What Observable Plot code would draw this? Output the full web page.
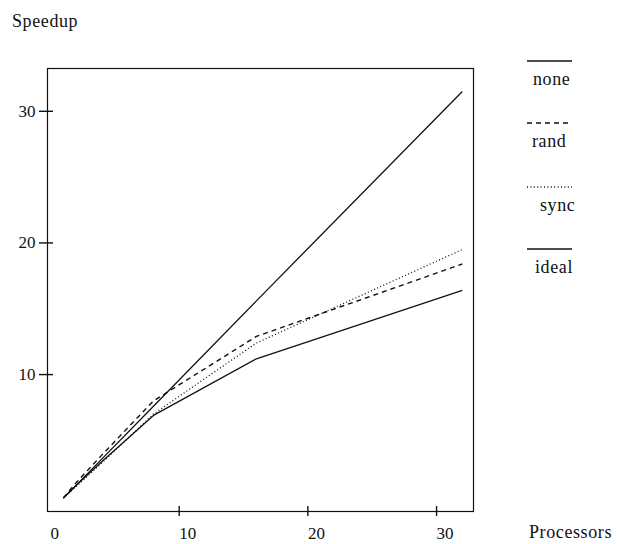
<!DOCTYPE html>
<html>
<head>
<meta charset="utf-8">
<script src="https://cdn.jsdelivr.net/npm/d3@7"></script>
<script src="https://cdn.jsdelivr.net/npm/@observablehq/plot@0.6"></script>
<style>
  html, body { margin: 0; padding: 0; background: #fff; }
  #chart { position: relative; width: 617px; height: 544px; }
  #chart svg text { font-family: 'Liberation Serif', 'Times New Roman', 'DejaVu Serif', serif; }
</style>
</head>
<body>
<div id="chart"></div>
<script>
// Data
const processors = [1, 2, 4, 8, 16, 32];
const noneSpeedup  = [0.63, 1.6, 3.4, 6.9, 11.2, 16.4];
const randSpeedup  = [0.63, 1.8, 3.9, 8.0, 12.9, 18.4];
const syncSpeedup  = [0.63, 1.5, 3.3, 7.0, 12.4, 19.5];
const idealSpeedup = [0.63, 1.6, 3.6, 7.6, 15.6, 31.5];
const seriesNames = ["none", "rand", "sync", "ideal"];
const xTicks = [10, 20, 30];
const xTickLabels = [0, 10, 20, 30];
const yTicks = [10, 20, 30];

const seriesValues = [noneSpeedup, randSpeedup, syncSpeedup, idealSpeedup];
const dashes = {none: null, rand: "5,4", sync: "1,2.4", ideal: null};
const widths = {none: 1.3, rand: 1.4, sync: 1.3, ideal: 1.3};

const rows = seriesNames.flatMap((s, i) =>
  processors.map((p, j) => ({series: s, p, v: seriesValues[i][j]})));

const font = "'Liberation Serif', 'Times New Roman', 'DejaVu Serif', serif";

const plot = Plot.plot({
  width: 617,
  height: 544,
  marginLeft: 47,
  marginRight: 144,
  marginTop: 68,
  marginBottom: 33,
  style: {fontFamily: font, fontSize: "17px", color: "#111", background: "#fff"},
  x: {domain: [-0.233, 32.87], label: null},
  y: {domain: [-0.4, 33.25], label: null},
  marks: [
    Plot.frame({stroke: "#111", strokeWidth: 1.2}),
    // tick marks crossing the axes
    Plot.ruleX(xTicks, {x: d => d, insetTop: 433, dy: 5, stroke: "#111", strokeWidth: 1.4}),
    Plot.ruleY(yTicks, {y: d => d, insetRight: 412, dx: -8, stroke: "#111", strokeWidth: 1.4}),
    // tick labels
    Plot.axisX({ticks: xTickLabels, tickSize: 0, tickPadding: 15, textAnchor: "start", fill: "#111", fontSize: 17, label: null}),
    Plot.axisY({ticks: yTicks, tickSize: 0, tickPadding: 12, fill: "#111", fontSize: 17, label: null}),
    ...seriesNames.map(s => Plot.line(rows.filter(d => d.series === s), {
      x: "p", y: "v",
      stroke: "#111",
      strokeWidth: widths[s],
      strokeDasharray: dashes[s],
      strokeLinecap: "butt"
    }))
  ]
});

document.getElementById("chart").appendChild(plot);

// titles and legend
const svg = d3.select(plot);
const word = sel => sel.style("font-family", font).attr("font-size", 18)
  .attr("letter-spacing", "0.6px").attr("fill", "#111").attr("text-anchor", "start");
svg.append("text").attr("x", 12).attr("y", 27).call(word).text("Speedup");
svg.append("text").attr("x", 529).attr("y", 538).call(word).text("Processors");

const legendY = [61, 123, 187, 249];
const legendTextX = [533, 532, 540, 535];
const legend = svg.append("g");
seriesNames.forEach((s, i) => {
  legend.append("line")
    .attr("x1", 527).attr("x2", 572)
    .attr("y1", legendY[i]).attr("y2", legendY[i])
    .attr("stroke", "#111").attr("stroke-width", 1.3)
    .attr("stroke-dasharray", dashes[s]);
  legend.append("text")
    .attr("x", legendTextX[i]).attr("y", legendY[i] + 24)
    .call(word).text(s);
});
</script>
</body>
</html>
